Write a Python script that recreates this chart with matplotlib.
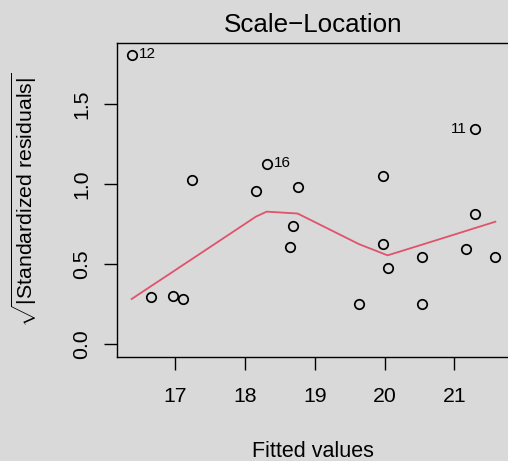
import matplotlib
matplotlib.use("Agg")
import matplotlib.pyplot as plt

# ---- data ----
fitted = [16.375, 16.648, 16.971, 17.115, 17.244, 18.156, 18.309, 18.754, 18.691, 18.648,
          19.632, 19.980, 19.971, 20.043, 20.530, 20.530, 21.160, 21.289, 21.298, 21.585]
sqrt_std_resid = [1.808, 0.298, 0.302, 0.283, 1.027, 0.956, 1.129, 0.985, 0.739, 0.610,
                  0.254, 1.050, 0.627, 0.479, 0.544, 0.250, 0.594, 0.814, 1.344, 0.544]
point_ids = [12, None, None, None, None, None, 16, None, None, None,
             None, None, None, None, None, None, None, None, 11, None]

smooth_x = [16.375, 16.648, 16.971, 17.115, 17.244, 18.156, 18.309, 18.648, 18.691, 18.754,
            19.632, 19.971, 19.980, 20.043, 20.530, 21.160, 21.289, 21.298, 21.585]
smooth_y = [0.283, 0.362, 0.455, 0.497, 0.534, 0.798, 0.829, 0.820, 0.819, 0.817,
            0.626, 0.568, 0.566, 0.556, 0.622, 0.708, 0.726, 0.727, 0.766]

x_ticks = [17, 18, 19, 20, 21]
y_ticks = [0.0, 0.5, 1.0, 1.5]

plt.rcParams['font.family'] = ['Liberation Sans', 'DejaVu Sans']
plt.rcParams['mathtext.fontset'] = 'custom'
plt.rcParams['mathtext.rm'] = 'Liberation Sans'
plt.rcParams['mathtext.it'] = 'Liberation Sans:italic'
plt.rcParams['mathtext.bf'] = 'Liberation Sans:bold'

W, H = 508, 461
bg = '#d9d9d9'
fig = plt.figure(figsize=(W / 100, H / 100), dpi=100, facecolor=bg)
ax = fig.add_axes([117 / W, 104 / H, (509.7 - 117) / W, (357 - 43) / H], facecolor=bg)

ax.plot(smooth_x, smooth_y, color='#DF536B', lw=1.3, zorder=2)
ax.plot(fitted, sqrt_std_resid, linestyle='none', marker='o', markersize=6.8,
        markerfacecolor='none', markeredgecolor='black', markeredgewidth=1.25, zorder=3)

for x, y, pid in zip(fitted, sqrt_std_resid, point_ids):
    if pid is None:
        continue
    if pid == 11:
        ax.annotate(str(pid), (x, y), xytext=(-6, 0.5), textcoords='offset points',
                    ha='right', va='center', fontsize=11)
    else:
        ax.annotate(str(pid), (x, y), xytext=(5.5, 0.5), textcoords='offset points',
                    ha='left', va='center', fontsize=11)

ax.set_xlim(16.165, 21.791)
ax.set_ylim(-0.0794, 1.883)
ax.set_xticks(x_ticks)
ax.set_xticklabels([str(t) for t in x_ticks])
ax.set_yticks(y_ticks)
ax.set_yticklabels([f"{t:.1f}" for t in y_ticks], rotation=90, va='center')

for s in ax.spines.values():
    s.set_linewidth(1.0)
    s.set_color('black')

ax.tick_params(axis='both', direction='out', length=9.4, width=1.0, labelsize=15.3,
               colors='black')
ax.tick_params(axis='x', pad=12.5)
ax.tick_params(axis='y', pad=9)

ax.set_title('Scale\u2212Location', fontsize=18.7, pad=7.7)
ax.set_xlabel('Fitted values', fontsize=15.5, labelpad=25)
ax.set_ylabel(r'$\sqrt{|\mathrm{Standardized\ residuals}|}$', fontsize=15.3, labelpad=24)

fig.savefig('out.png', dpi=100, facecolor=bg)
